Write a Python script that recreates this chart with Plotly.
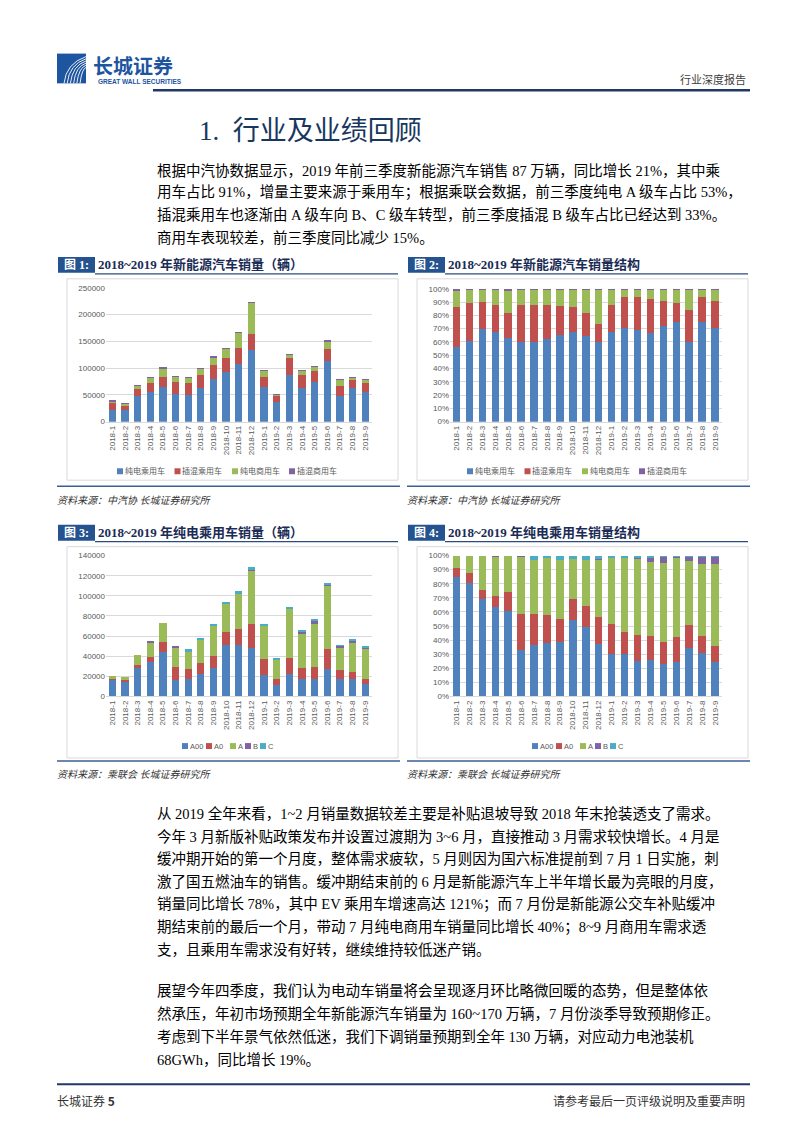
import plotly.graph_objects as go
import numpy as np

W, H = 802, 1133
def X(p): return p / W
def Y(p): return 1 - p / H

# ---------------- data ----------------
months = ["2018-1", "2018-2", "2018-3", "2018-4", "2018-5", "2018-6", "2018-7",
          "2018-8", "2018-9", "2018-10", "2018-11", "2018-12",
          "2019-1", "2019-2", "2019-3", "2019-4", "2019-5", "2019-6",
          "2019-7", "2019-8", "2019-9"]

# Figure 1/2: NEV sales by type (vehicles)
bev_pv = [22000, 21000, 47000, 55500, 64000, 51000, 50000, 62000, 79000, 93000, 108000,
          134000, 65000, 36500, 87000, 63500, 74000, 114000, 48000, 62000, 55500]
phev_pv = [12000, 10000, 14000, 16500, 19000, 23000, 23000, 26000, 27000, 26000, 29000,
           30000, 19000, 12000, 31000, 24500, 20000, 21500, 19000, 16000, 16500]
bev_cv = [5000, 3500, 6500, 10000, 17000, 10500, 10000, 12000, 15000, 18500, 30000,
          58000, 11500, 3000, 7000, 7500, 9000, 15500, 13000, 5000, 7000]
phev_cv = [400, 100, 100, 100, 1500, 100, 200, 300, 500, 200, 200,
           300, 500, 100, 500, 200, 200, 600, 100, 100, 100]
names1 = ["纯电乘用车", "插混乘用车", "纯电商用车", "插混商用车"]

# Figure 3/4: BEV passenger sales by class (vehicles)
a00 = [17000, 15300, 28300, 34500, 44500, 16500, 17000, 22000, 28000, 51000, 51500,
       48500, 21500, 11500, 22500, 17300, 17500, 27500, 17500, 17500, 12000]
a0 = [1300, 1400, 2700, 4500, 9500, 12500, 10500, 11500, 12000, 13500, 15500,
      24000, 15500, 6000, 16000, 11000, 12000, 20000, 8500, 6800, 5800]
a_cls = [1700, 2300, 10000, 15500, 19000, 20500, 18000, 23500, 30000, 27000, 34500,
         53000, 33500, 20000, 49000, 35000, 43000, 63000, 23000, 29000, 29000]
b_cls = [0, 0, 0, 100, 0, 300, 0, 0, 0, 0, 0,
         600, 0, 0, 200, 1600, 3500, 1600, 1800, 3200, 2600]
c_cls = [0, 0, 0, 0, 0, 0, 1400, 1200, 2500, 2200, 3000,
         3000, 1400, 600, 1200, 1300, 500, 500, 200, 300, 200]
names3 = ["A00", "A0", "A", "B", "C"]

colors = ["#4F81BD", "#C0504D", "#9BBB59", "#8064A2", "#4BACC6"]

series1 = [bev_pv, phev_pv, bev_cv, phev_cv]
series3 = [a00, a0, a_cls, b_cls, c_cls]
tot1 = np.sum(np.array(series1, dtype=float), axis=0)
tot3 = np.sum(np.array(series3, dtype=float), axis=0)

fig = go.Figure()

def add_bars(series, names, xa, ya, norm=None):
    for s, n, c in zip(series, names, colors):
        vals = np.array(s, dtype=float)
        if norm is not None:
            vals = vals / norm
        fig.add_trace(go.Bar(x=months, y=vals, name=n, marker=dict(color=c, line=dict(width=0)),
                             xaxis=xa, yaxis=ya, showlegend=False))

add_bars(series1, names1, "x", "y")
add_bars(series1, names1, "x2", "y2", tot1)
add_bars(series3, names3, "x3", "y3")
add_bars(series3, names3, "x4", "y4", tot3)

GRID = "#D9D9D9"
TICK = dict(size=8, color="#595959", family="Liberation Sans, Noto Sans CJK SC")

def xax(x0, x1, anchor):
    return dict(domain=[X(x0), X(x1)], anchor=anchor, tickangle=-90, tickfont=TICK,
                showline=True, linecolor=GRID, linewidth=1, showgrid=False, ticks="",
                fixedrange=True, type="category")

def yax(y_bot, y_top, anchor, rng, dtick, fmt):
    return dict(domain=[Y(y_bot), Y(y_top)], anchor=anchor, range=rng, dtick=dtick,
                tickformat=fmt, tickfont=TICK, showgrid=True, gridcolor=GRID, gridwidth=1,
                showline=False, zeroline=False, ticks="", fixedrange=True)

fig.update_layout(
    width=W, height=H, margin=dict(l=0, r=0, t=0, b=0),
    paper_bgcolor="white", plot_bgcolor="white",
    barmode="stack", bargap=0.42, showlegend=False,
    xaxis=xax(106, 371.5, "y"), yaxis=yax(421, 286, "x", [0, 250000], 50000, "d"),
    xaxis2=xax(450, 721.5, "y2"), yaxis2=yax(421, 287, "x2", [0, 1], 0.1, ".0%"),
    xaxis3=xax(106, 371.5, "y3"), yaxis3=yax(698, 556, "x3", [0, 140000], 20000, "d"),
    xaxis4=xax(450, 721.5, "y4"), yaxis4=yax(698, 556, "x4", [0, 1], 0.1, ".0%"),
)

SERIF = "Liberation Serif, Noto Sans CJK SC"
NAVY = "#1F3864"
shapes = []
annos = []

def text(x, y, s, size, color="#000000", anchor="left", bold=False, italic=False, family=SERIF):
    if bold:
        s = "<b>" + s + "</b>"
    if italic:
        s = "<i>" + s + "</i>"
    annos.append(dict(x=X(x), y=Y(y), xref="paper", yref="paper", text=s, showarrow=False,
                      xanchor=anchor, yanchor="middle", borderpad=0, borderwidth=0,
                      font=dict(size=size, color=color, family=family)))

def line(x0, y0, x1, y1, color, width):
    shapes.append(dict(type="line", xref="paper", yref="paper", x0=X(x0), y0=Y(y0),
                       x1=X(x1), y1=Y(y1), line=dict(color=color, width=width)))

def rect(x0, y0, x1, y1, fill=None, lc=None, lw=0, layer="below"):
    shapes.append(dict(type="rect", xref="paper", yref="paper", x0=X(x0), y0=Y(y0),
                       x1=X(x1), y1=Y(y1), fillcolor=fill if fill else "rgba(0,0,0,0)",
                       line=dict(color=lc if lc else "rgba(0,0,0,0)", width=lw), layer=layer))

# ---- header ----
LOGO = "#1E55A0"
rect(57, 50, 86, 80, fill=LOGO)
for i in range(6):
    x0 = 64 + i * 3.2
    p = (f"M {X(x0)},{Y(80)} Q {X(x0 + 2)},{Y(60 + i)} {X(86)},{Y(53 + i * 2.2)}")
    shapes.append(dict(type="path", xref="paper", yref="paper", path=p,
                       line=dict(color="white", width=0.9)))
text(93, 62, "长城证券", 20, color=LOGO, bold=True, family="Noto Sans CJK SC")
text(98, 78, "GREAT WALL SECURITIES", 6.5, color=LOGO, bold=True, family="Liberation Sans")
text(746, 76, "行业深度报告", 11, color="#404040", anchor="right", family="Noto Sans CJK SC")
line(153, 87, 750, 87, NAVY, 2.5)

text(199, 128, "1.  行业及业绩回顾", 27, color="#17375E")

para1 = ["根据中汽协数据显示，2019 年前三季度新能源汽车销售 87 万辆，同比增长 21%，其中乘",
         "用车占比 91%，增量主要来源于乘用车；根据乘联会数据，前三季度纯电 A 级车占比 53%，",
         "插混乘用车也逐渐由 A 级车向 B、C 级车转型，前三季度插混 B 级车占比已经达到 33%。",
         "商用车表现较差，前三季度同比减少 15%。"]
for i, s in enumerate(para1):
    text(157, 168 + i * 22.3, s, 14.5)

# ---- chart frames / titles ----
charts = [
    (57, 400, 67, 398, 255, "图 1:", "2018~2019 年新能源汽车销量（辆）", 480, 486, 500, "资料来源：中汽协 长城证券研究所"),
    (407, 750, 417, 748, 255, "图 2:", "2018~2019 年新能源汽车销量结构", 480, 486, 500, "资料来源：中汽协 长城证券研究所"),
    (57, 400, 67, 398, 525, "图 3:", "2018~2019 年纯电乘用车销量（辆）", 760, 763, 777, "资料来源：乘联会 长城证券研究所"),
    (407, 750, 417, 748, 525, "图 4:", "2018~2019 年纯电乘用车销量结构", 760, 763, 777, "资料来源：乘联会 长城证券研究所"),
]
BOX = "#24538F"
for (l, r, fl, fr, ty, lab, title, fb, bl, sy, src) in charts:
    rect(l + 1, ty, l + 38, ty + 16, fill=BOX)
    text(l + 19.5, ty + 8, lab, 12, color="white", anchor="center", bold=True)
    text(l + 41, ty + 7.5, title, 13, color="#1A2C55", bold=True)
    line(l + 38, ty + 17, r - 2, ty + 17, "#2B4C7E", 1.2)
    rect(fl, ty + 22, fr, fb, lc="#D9D9D9", lw=1)
    line(l, bl, r, bl, "#3A5F94", 1.5)
    text(l, sy, src, 10, color="#333333", italic=True)

# ---- legends (compact, Excel style) ----
LEGF = "Liberation Sans, Noto Sans CJK SC"
def legend_row(names, xs, y, size):
    for n, c, x in zip(names, colors, xs):
        rect(x - 3, y - 3, x + 3, y + 3, fill=c, layer="above")
        text(x + 4.5, y, n, size, color="#595959", family=LEGF)

legend_row(names1, [120, 177.5, 235, 292], 471, 8)
legend_row(names1, [470, 527.5, 585, 642], 471, 8)
legend_row(names3, [185, 209, 233, 248, 263], 748, 7.5)
legend_row(names3, [535, 559, 583, 598, 613], 748, 7.5)

para2 = ["从 2019 全年来看，1~2 月销量数据较差主要是补贴退坡导致 2018 年末抢装透支了需求。",
         "今年 3 月新版补贴政策发布并设置过渡期为 3~6 月，直接推动 3 月需求较快增长。4 月是",
         "缓冲期开始的第一个月度，整体需求疲软，5 月则因为国六标准提前到 7 月 1 日实施，刺",
         "激了国五燃油车的销售。缓冲期结束前的 6 月是新能源汽车上半年增长最为亮眼的月度，",
         "销量同比增长 78%，其中 EV 乘用车增速高达 121%；而 7 月份是新能源公交车补贴缓冲",
         "期结束前的最后一个月，带动 7 月纯电商用车销量同比增长 40%；8~9 月商用车需求透",
         "支，且乘用车需求没有好转，继续维持较低迷产销。"]
for i, s in enumerate(para2):
    text(157, 816 + i * 22.9, s, 14.5)

para3 = ["展望今年四季度，我们认为电动车销量将会呈现逐月环比略微回暖的态势，但是整体依",
         "然承压，年初市场预期全年新能源汽车销量为 160~170 万辆，7 月份淡季导致预期修正。",
         "考虑到下半年景气依然低迷，我们下调销量预期到全年 130 万辆，对应动力电池装机",
         "68GWh，同比增长 19%。"]
for i, s in enumerate(para3):
    text(157, 995 + i * 23, s, 14.5)

# ---- footer ----
line(57, 1089, 750, 1089, NAVY, 2)
text(57, 1105, "长城证券 <b>5</b>", 12, color="#333333", family="Noto Sans CJK SC")
text(745, 1105, "请参考最后一页评级说明及重要声明", 12, color="#333333", anchor="right",
     family="Noto Sans CJK SC")

fig.update_layout(shapes=shapes, annotations=annos)
fig.write_html("out.html", config={"displayModeBar": False},
               post_script="document.body.style.margin='0px';")
